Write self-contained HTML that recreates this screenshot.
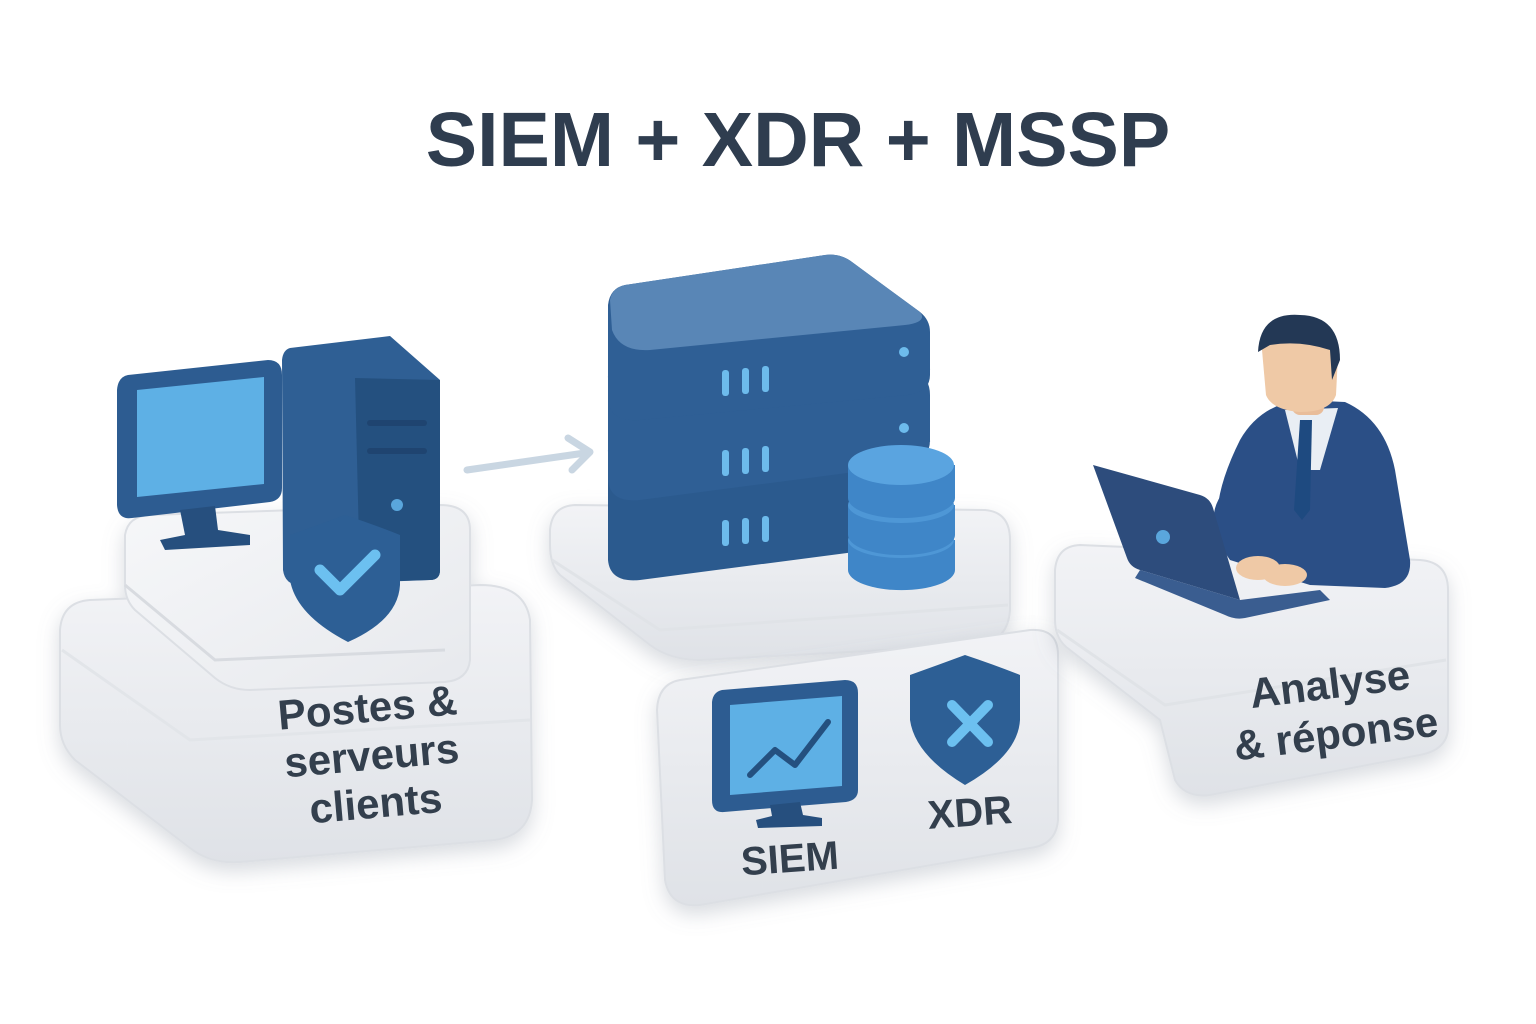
<!DOCTYPE html>
<html><head><meta charset="utf-8"><style>
html,body{margin:0;padding:0;background:#fff;}
svg{display:block;}
text{font-family:"Liberation Sans","DejaVu Sans",sans-serif;}
</style></head><body>
<svg width="1536" height="1024" viewBox="0 0 1536 1024" xmlns="http://www.w3.org/2000/svg">
<defs>
<linearGradient id="ped" x1="0" y1="0" x2="0" y2="1"><stop offset="0" stop-color="#f2f3f6"/><stop offset="1" stop-color="#dfe2e7"/></linearGradient>
<linearGradient id="pedTop" x1="0" y1="0" x2="1" y2="1"><stop offset="0" stop-color="#f6f7f9"/><stop offset="1" stop-color="#e7e9ed"/></linearGradient>
<filter id="sh" x="-20%" y="-20%" width="140%" height="150%"><feDropShadow dx="0" dy="8" stdDeviation="10" flood-color="#7d8896" flood-opacity="0.3"/></filter>
</defs>
<rect width="1536" height="1024" fill="#fff"/>
<text x="798" y="166" text-anchor="middle" font-size="77" font-weight="bold" fill="#2f3d4f">SIEM + XDR + MSSP</text>

<!-- LEFT PEDESTAL -->
<g filter="url(#sh)">
<path d="M90 600 L480 585 Q525 585 530 620 L532 800 Q530 835 495 840 L240 862 Q210 864 190 848 L75 760 Q60 745 60 725 L60 630 Q62 602 90 600 Z" fill="url(#ped)" stroke="#dcdfe4" stroke-width="2"/>
<path d="M150 515 L440 505 Q470 505 470 530 L470 660 Q468 680 445 682 L250 690 Q230 690 215 678 L135 610 Q125 600 125 585 L125 535 Q128 516 150 515 Z" fill="url(#pedTop)" stroke="#dcdfe4" stroke-width="2"/>
</g>
<path d="M125 585 L215 660 L445 650" fill="none" stroke="#d8dbe0" stroke-width="3"/>
<path d="M62 650 L190 740 L530 720" fill="none" stroke="#e2e5e9" stroke-width="3"/>
<!-- tower -->
<path d="M290 348 L390 336 L440 380 L440 570 Q440 580 430 580 L300 585 Q285 585 283 570 L282 360 Q283 350 290 348 Z" fill="#2f5f94"/>
<path d="M355 378 L440 380 L440 570 Q440 580 430 580 L360 582 Z" fill="#24507f"/>
<rect x="367" y="420" width="60" height="6" rx="3" fill="#1f4470"/>
<rect x="367" y="448" width="60" height="6" rx="3" fill="#1f4470"/>
<circle cx="397" cy="505" r="6" fill="#5aa6dc"/>
<!-- monitor -->
<path d="M128 375 L268 360 Q282 360 282 375 L282 488 Q282 500 270 502 L132 518 Q118 520 117 505 L117 390 Q118 377 128 375 Z" fill="#2d5c91"/>
<path d="M137 390 L264 377 L264 484 L137 497 Z" fill="#5eb0e5"/>
<path d="M180 510 L215 506 L218 530 L250 535 L250 545 L165 550 L160 540 L185 535 Z" fill="#264f7e"/>
<!-- shield -->
<path d="M345 515 Q375 525 400 535 L400 585 Q398 620 348 642 Q296 615 290 580 L290 535 Q318 525 345 515 Z" fill="#2d5f95"/>
<path d="M320 570 L340 590 L375 555" fill="none" stroke="#6cc0f0" stroke-width="11" stroke-linecap="round" stroke-linejoin="round"/>
<g transform="rotate(-5 370 760)" font-size="42" font-weight="bold" fill="#333f4d" text-anchor="middle">
<text x="372" y="722">Postes &amp;</text>
<text x="372" y="770">serveurs</text>
<text x="372" y="818">clients</text>
</g>

<!-- ARROW -->
<path d="M467 470 L585 453" stroke="#c9d6e2" stroke-width="7" stroke-linecap="round" fill="none"/>
<path d="M568 438 L590 452 L572 470" stroke="#c9d6e2" stroke-width="7" stroke-linecap="round" stroke-linejoin="round" fill="none"/>

<!-- MIDDLE PEDESTAL -->
<g filter="url(#sh)">
<path d="M575 505 L985 510 Q1010 512 1010 540 L1010 610 Q1008 640 980 645 L700 660 Q670 660 650 645 L560 575 Q550 565 550 545 L550 530 Q552 506 575 505 Z" fill="url(#ped)" stroke="#dcdfe4" stroke-width="2"/>
</g>
<path d="M552 560 L660 630 L1008 605" fill="none" stroke="#e0e3e7" stroke-width="3"/>
<!-- servers -->
<g>
<path d="M620 450 L905 445 Q930 445 930 468 L930 520 Q930 540 908 545 L640 580 Q610 583 608 560 L608 470 Q610 452 620 450 Z" fill="#2b5a8e"/>
<path d="M608 452 L930 440" stroke="#5f8cbc" stroke-width="4"/>
<rect x="722" y="520" width="7" height="26" rx="3" fill="#6dbbec"/><rect x="742" y="518" width="7" height="26" rx="3" fill="#6dbbec"/><rect x="762" y="516" width="7" height="26" rx="3" fill="#6dbbec"/>
<path d="M620 375 L905 372 Q930 372 930 395 L930 440 Q930 460 908 465 L640 500 Q610 503 608 480 L608 395 Q610 377 620 375 Z" fill="#2f5f95"/>
<path d="M608 378 L930 368" stroke="#5f8cbc" stroke-width="4"/>
<rect x="722" y="450" width="7" height="26" rx="3" fill="#6dbbec"/><rect x="742" y="448" width="7" height="26" rx="3" fill="#6dbbec"/><rect x="762" y="446" width="7" height="26" rx="3" fill="#6dbbec"/>
<circle cx="904" cy="428" r="5" fill="#6dbbec"/>
<path d="M625 285 L825 255 Q840 253 852 262 L920 312 Q930 320 930 332 L930 375 Q930 392 908 395 L640 420 Q610 422 608 400 L608 305 Q610 288 625 285 Z" fill="#2f5f95"/>
<path d="M625 285 L825 255 Q840 253 852 262 L920 312 Q928 322 905 325 L650 350 Q620 352 612 330 L610 300 Q612 288 625 285 Z" fill="#5986b6"/>
<rect x="722" y="370" width="7" height="26" rx="3" fill="#6dbbec"/><rect x="742" y="368" width="7" height="26" rx="3" fill="#6dbbec"/><rect x="762" y="366" width="7" height="26" rx="3" fill="#6dbbec"/>
<circle cx="904" cy="352" r="5" fill="#6dbbec"/>
</g>
<!-- cylinders -->
<g>
<path d="M848 540 L848 570 A53 20 0 0 0 955 570 L955 540 Z" fill="#3f86c8"/>
<ellipse cx="901" cy="540" rx="53" ry="18" fill="#4e97d6"/>
<path d="M848 505 L848 535 A53 20 0 0 0 955 535 L955 505 Z" fill="#3f86c8"/>
<ellipse cx="901" cy="505" rx="53" ry="18" fill="#4e97d6"/>
<path d="M848 465 L848 498 A53 20 0 0 0 955 498 L955 465 Z" fill="#3f86c8"/>
<ellipse cx="901" cy="465" rx="53" ry="20" fill="#5aa4e0"/>
</g>
<!-- front card -->
<g filter="url(#sh)">
<path d="M680 680 L1030 630 Q1058 628 1058 655 L1058 820 Q1056 845 1030 848 L700 905 Q670 908 665 880 L657 710 Q658 684 680 680 Z" fill="url(#ped)" stroke="#dcdfe4" stroke-width="2"/>
</g>
<path d="M722 690 L845 680 Q858 680 858 693 L858 790 Q858 800 846 802 L724 812 Q712 813 712 800 L712 702 Q713 692 722 690 Z" fill="#2d5c91"/>
<path d="M730 705 L842 696 L842 786 L730 795 Z" fill="#5eb0e5"/>
<path d="M750 775 L775 750 L795 765 L828 722" fill="none" stroke="#24507f" stroke-width="6" stroke-linecap="round" stroke-linejoin="round"/>
<path d="M770 805 L800 802 L803 815 L822 818 L822 826 L758 828 L756 820 L772 816 Z" fill="#264f7e"/>
<path d="M965 655 Q995 665 1020 675 L1020 720 Q1018 755 965 785 Q915 755 910 720 L910 675 Q938 665 965 655 Z" fill="#2d5f95"/>
<path d="M952 705 L988 742 M988 705 L952 742" stroke="#6cc0f0" stroke-width="10" stroke-linecap="round"/>
<text x="790" y="872" text-anchor="middle" font-size="40" font-weight="bold" fill="#333f4d" transform="rotate(-4 790 860)">SIEM</text>
<text x="970" y="826" text-anchor="middle" font-size="40" font-weight="bold" fill="#333f4d" transform="rotate(-4 970 815)">XDR</text>

<!-- RIGHT PEDESTAL -->
<g filter="url(#sh)">
<path d="M1080 545 L1420 560 Q1448 562 1448 590 L1448 730 Q1446 750 1420 755 L1210 795 Q1185 798 1175 780 L1160 720 L1070 650 Q1055 640 1055 620 L1055 570 Q1057 546 1080 545 Z" fill="url(#ped)" stroke="#dcdfe4" stroke-width="2"/>
</g>
<path d="M1057 630 L1165 705 L1446 660" fill="none" stroke="#e0e3e7" stroke-width="3"/>
<!-- person -->
<path d="M1240 440 Q1260 405 1300 400 L1345 402 Q1385 420 1395 470 L1410 560 Q1412 585 1385 588 L1310 585 L1230 560 Q1200 520 1240 440 Z" fill="#2b4f86"/>
<path d="M1285 410 L1338 408 L1320 470 L1300 470 Z" fill="#e9eef4"/>
<path d="M1300 420 L1312 420 L1310 510 L1302 520 L1294 510 Z" fill="#1e4a80"/>
<rect x="1292" y="385" width="32" height="30" rx="8" fill="#e9bd9a"/>
<path d="M1262 350 Q1265 320 1300 318 Q1335 320 1338 355 L1336 395 Q1330 412 1300 412 Q1272 410 1266 395 Z" fill="#efc9a6"/>
<path d="M1258 352 Q1260 312 1300 315 Q1340 316 1340 360 L1332 380 L1330 350 Q1300 340 1270 345 Z" fill="#233855"/>
<path d="M1225 490 Q1200 520 1230 555 L1250 565 L1270 540 Z" fill="#2b4f86"/>
<ellipse cx="1258" cy="568" rx="22" ry="12" fill="#efc9a6"/>
<!-- laptop -->
<path d="M1093 465 L1200 495 Q1210 498 1213 508 L1240 600 L1140 570 Q1130 567 1127 558 Z" fill="#2d4c7c"/>
<path d="M1140 570 L1240 600 L1320 590 L1330 600 L1245 618 Q1235 620 1225 615 L1135 578 Z" fill="#3a5d90"/>
<circle cx="1163" cy="537" r="7" fill="#5aa6dc"/>
<ellipse cx="1285" cy="575" rx="22" ry="11" fill="#efc9a6"/>
<g transform="rotate(-7 1335 710)" font-size="42" font-weight="bold" fill="#333f4d" text-anchor="middle">
<text x="1333" y="698">Analyse</text>
<text x="1333" y="748">&amp; réponse</text>
</g>
</svg>
</body></html>
